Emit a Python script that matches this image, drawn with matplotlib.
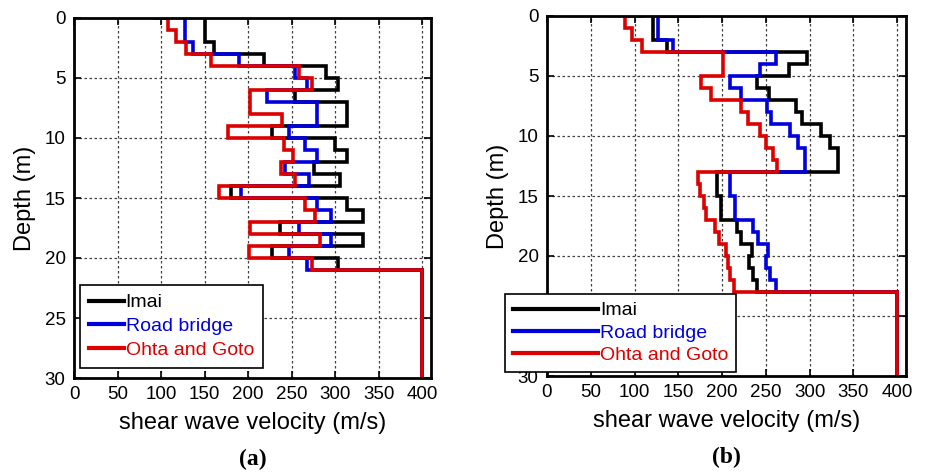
import matplotlib
matplotlib.use('Agg')
import matplotlib.pyplot as plt
import numpy as np

plt.rcParams['font.family'] = ['Liberation Sans', 'DejaVu Sans']

# layer boundaries (m): 1 m layers, last one is the half-space down to 30 m
depth_a = [0, 1, 2, 3, 4, 5, 6, 7, 8, 9, 10, 11, 12, 13, 14, 15, 16, 17, 18, 19, 20, 21, 30]
depth_b = [0, 1, 2, 3, 4, 5, 6, 7, 8, 9, 10, 11, 12, 13, 14, 15, 16, 17, 18, 19, 20, 21, 22, 23, 30]

# (a) Vs per layer (m/s)
imai_a = [150, 150, 161, 218, 289, 303, 254, 314, 314, 227, 300, 314, 276, 305, 180,
          314, 332, 237, 332, 227, 303, 400]
road_a = [127, 127, 137, 189, 254, 268, 222, 279, 279, 247, 265, 279, 242, 270, 192,
          279, 295, 258, 295, 247, 268, 400]
ohta_a = [108, 117, 129, 157, 258, 273, 202, 202, 239, 177, 241, 252, 238, 254, 167,
          265, 277, 202, 282, 201, 273, 400]

# (b) Vs per layer (m/s)
imai_b = [121, 121, 137, 297, 276, 240, 253, 284, 291, 313, 323, 332, 332, 194, 194,
          199, 199, 217, 222, 234, 231, 235, 240, 400]
road_b = [127, 127, 144, 262, 243, 209, 221, 251, 256, 278, 287, 295, 295, 209, 209,
          215, 215, 235, 241, 252, 250, 255, 261, 400]
ohta_b = [89, 97, 109, 201, 201, 176, 187, 221, 229, 243, 250, 258, 263, 173, 175,
          179, 182, 192, 197, 204, 207, 209, 213, 400]

# surface values where the profile starts with a short offset at 0 m
surface_a = {'Ohta and Goto': 93}
surface_b = {'Imai': 172, 'Ohta and Goto': 109}

labels = ['Imai', 'Road bridge', 'Ohta and Goto']
colors = ['black', '#0000dd', '#dd0000']


def stairs(depth, vs, v0=None):
    d = np.asarray(depth, dtype=float)
    v = np.asarray(vs, dtype=float)
    x = np.repeat(v, 2)
    y = np.column_stack([d[:-1], d[1:]]).ravel()
    if v0 is not None:
        x = np.r_[v0, x]
        y = np.r_[0.0, y]
    return x, y


fig = plt.figure(figsize=(9.28, 4.73), dpi=100)
ax1 = fig.add_axes([74 / 928, 95 / 473, 357 / 928, 360 / 473])
ax2 = fig.add_axes([547 / 928, 97 / 473, 359 / 928, 360 / 473])

panels = [
    (ax1, depth_a, [imai_a, road_a, ohta_a], surface_a, '(a)'),
    (ax2, depth_b, [imai_b, road_b, ohta_b], surface_b, '(b)'),
]

for ax, depth, series, surface, tag in panels:
    for vs, lab, col in zip(series, labels, colors):
        x, y = stairs(depth, vs, surface.get(lab))
        ax.plot(x, y, color=col, linewidth=2.6, label=lab, solid_joinstyle='miter')
    ax.set_xlim(0, 410)
    ax.set_ylim(30, 0)
    ax.set_xticks(np.arange(0, 401, 50))
    ax.set_yticks(np.arange(0, 31, 5))
    ax.grid(True, color='0.25', linestyle=(0, (2, 2)), linewidth=0.9)
    ax.tick_params(direction='in', top=True, right=True, labelsize=13.5,
                   width=1.2, length=5, pad=6)
    for sp in ax.spines.values():
        sp.set_linewidth(2)
    ax.set_xlabel('shear wave velocity (m/s)', fontsize=17, labelpad=6)
    ax.set_ylabel('Depth (m)', fontsize=17, labelpad=6)
    ax.text(0.5, -0.225, tag, transform=ax.transAxes, ha='center', va='center',
            fontsize=17, fontweight='bold', family='Liberation Serif')

leg_kw = dict(fontsize=14, frameon=True, fancybox=False, framealpha=1,
              edgecolor='black', borderaxespad=0, handletextpad=0.1)
leg1 = ax1.legend(loc='upper left', bbox_to_anchor=(80 / 928, (473 - 285) / 473),
                  bbox_transform=fig.transFigure, handlelength=1.8,
                  labelspacing=0.32, borderpad=0.45, **leg_kw)
leg2 = ax2.legend(loc='upper left', bbox_to_anchor=(505 / 928, (473 - 294) / 473),
                  bbox_transform=fig.transFigure, handlelength=4.4,
                  labelspacing=0.24, borderpad=0.4, **leg_kw)
for leg in (leg1, leg2):
    leg.get_frame().set_linewidth(1.2)
    for txt, col in zip(leg.get_texts(), colors):
        txt.set_color(col)
    for ln in leg.get_lines():
        ln.set_linewidth(3)

fig.savefig('out.png', dpi=100)
